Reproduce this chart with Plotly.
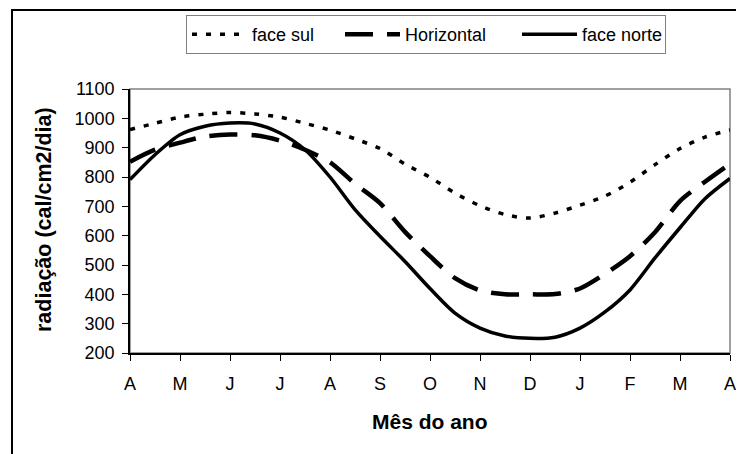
import plotly.graph_objects as go

# ---- data ----
months = ["A", "M", "J", "J", "A", "S", "O", "N", "D", "J", "F", "M", "A"]
month_pos = list(range(13))
x_pos = [i * 0.5 for i in range(25)]  # half-month sampling points

face_sul = [962, 983, 1004, 1014, 1020, 1015, 1004, 983, 960, 930, 897, 844, 799,
            745, 702, 672, 660, 677, 704, 735, 782, 842, 897, 936, 960]
horizontal = [852, 893, 917, 938, 945, 942, 924, 893, 850, 777, 711, 613, 530,
              455, 413, 400, 400, 401, 420, 470, 530, 612, 718, 784, 845]
face_norte = [791, 876, 944, 973, 984, 981, 950, 893, 800, 689, 598, 512, 420,
              336, 285, 258, 250, 254, 285, 340, 415, 524, 627, 726, 795]

y_ticks = list(range(200, 1101, 100))

FONT = "Liberation Sans, Arial, sans-serif"

fig = go.Figure()
fig.add_trace(go.Scatter(x=x_pos, y=face_sul, name="face sul", mode="lines",
                         legendwidth=83,
                         line=dict(color="black", width=3.5, dash="5px,9px",
                                   shape="spline", smoothing=0.8)))
fig.add_trace(go.Scatter(x=x_pos, y=horizontal, name="Horizontal", mode="lines",
                         legendwidth=107,
                         line=dict(color="black", width=4.5, dash="28px,14px",
                                   shape="spline", smoothing=0.8)))
fig.add_trace(go.Scatter(x=x_pos, y=face_norte, name="face norte", mode="lines",
                         legendwidth=78,
                         line=dict(color="black", width=3.5,
                                   shape="spline", smoothing=0.8)))

# page body has an 8px margin: build the figure 8px smaller and shifted
OFF = 8
W, H = 744 - OFF, 454 - OFF
L, T = 130 - OFF, 89 - OFF
PR, PB = 730 - OFF, 353 - OFF  # plot right / bottom in figure px
R, B = W - PR, H - PB
pw, ph = PR - L, PB - T


def px_x(px):
    return (px - OFF - L) / pw


def px_y(py):
    return (PB - (py - OFF)) / ph


fig.update_layout(
    width=W, height=H,
    margin=dict(l=L, r=R, t=T, b=B, autoexpand=False),
    paper_bgcolor="white", plot_bgcolor="white",
    font=dict(family=FONT, size=18, color="black"),
    showlegend=True,
    legend=dict(orientation="h", x=px_x(186), y=px_y(15), xanchor="left", yanchor="top",
                bordercolor="#808080", borderwidth=1, bgcolor="white",
                itemwidth=55, entrywidthmode="pixels",
                font=dict(family=FONT, size=18, color="black"),
                tracegroupgap=0),
    xaxis=dict(range=[0, 12], tickmode="array", tickvals=month_pos, ticktext=months,
               showgrid=False, zeroline=False, showline=True, linecolor="black", linewidth=1.5,
               ticks="outside", ticklen=6, tickcolor="black", tickwidth=1,
               ticklabelstandoff=8,
               tickfont=dict(family=FONT, size=18, color="black")),
    yaxis=dict(range=[200, 1100], tickmode="array", tickvals=y_ticks,
               showgrid=False, zeroline=False, showline=True, linecolor="black", linewidth=1.5,
               ticks="outside", ticklen=6, tickcolor="black", tickwidth=1,
               ticklabelstandoff=4,
               tickfont=dict(family=FONT, size=18, color="black")),
    shapes=[
        dict(type="rect", xref="paper", yref="paper", x0=0, x1=1, y0=0, y1=1,
             line=dict(color="#808080", width=1.5), layer="below"),
        dict(type="rect", xref="paper", yref="paper",
             x0=px_x(12), x1=px_x(741), y0=px_y(470), y1=px_y(10),
             line=dict(color="black", width=2), layer="below"),
    ],
    annotations=[
        dict(text="<b>Mês do ano</b>", xref="paper", yref="paper", x=px_x(430), y=px_y(421),
             xanchor="center", yanchor="middle", showarrow=False,
             font=dict(family=FONT, size=21, color="black")),
        dict(text="<b>radiação (cal/cm2/dia)</b>", xref="paper", yref="paper",
             x=px_x(44), y=px_y(220), xanchor="center", yanchor="middle", textangle=-90,
             showarrow=False, font=dict(family=FONT, size=21.5, color="black")),
    ],
)

fig.write_html("out.html")
